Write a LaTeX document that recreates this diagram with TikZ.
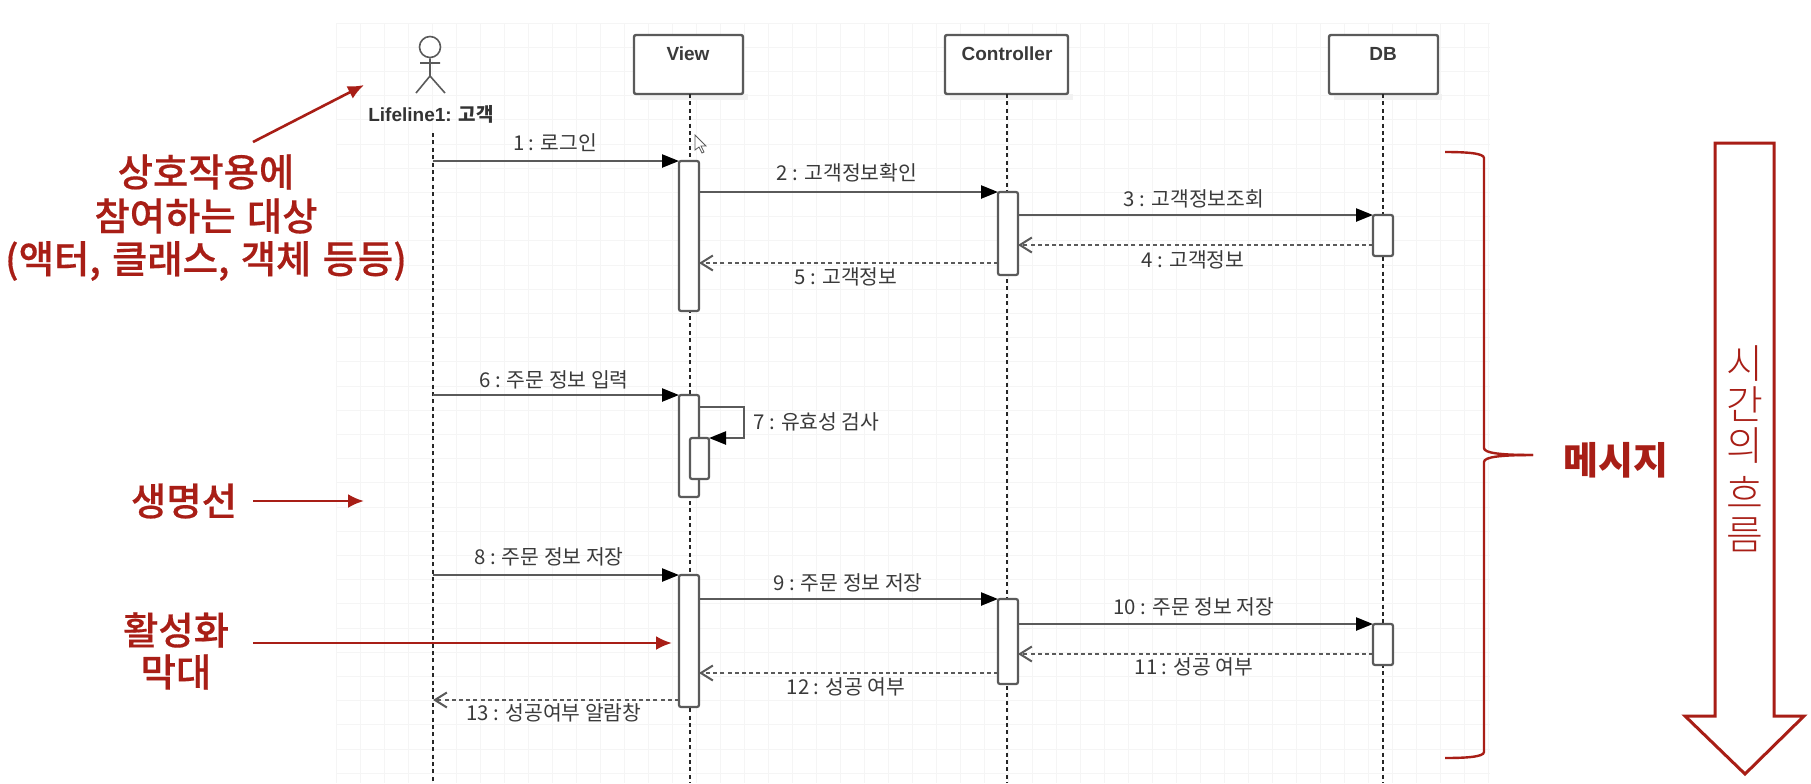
\documentclass[tikz,border=0pt]{standalone}
\usepackage{fontspec}
\setmainfont{Noto Sans CJK KR}
\newfontfamily\lblf[WordSpace=2.0]{Noto Sans CJK KR}
\newfontfamily\latinf[BoldFont={Liberation Sans Bold}]{Liberation Sans}
\newfontfamily\redf[WordSpace=1.3,FakeBold=0.4]{Noto Sans CJK KR Medium}
\newfontfamily\redbf{Noto Sans CJK KR}
\newfontfamily\thinf{Noto Sans CJK KR Light}
\usetikzlibrary{arrows.meta,calc}
\definecolor{redc}{HTML}{A81E16}
\definecolor{linec}{HTML}{5A5A5A}
\definecolor{textc}{HTML}{3A3A3A}
\definecolor{gridc}{HTML}{F5F5F5}
\newcommand{\fs}[1]{\fontsize{#1}{#1}\selectfont}
\tikzset{
  x=0.5pt,y=-0.5pt,
  box/.style={draw=linec,line width=1.2pt,rounded corners=1pt,fill=white,minimum width=54pt,minimum height=29.5pt,inner sep=0pt,outer sep=0pt,anchor=north west},
  boxtext/.style={font=\latinf\bfseries\fs{9.5},text=textc,inner sep=0pt},
  act/.style={draw=linec,line width=1.1pt,rounded corners=1pt,fill=white,minimum width=10pt,inner sep=0pt,outer sep=0pt,anchor=north west},
  lifeline/.style={draw=black!85,line width=1pt,dash pattern=on 2pt off 1.7pt},
  msg/.style={draw=linec,line width=1.2pt,-{Triangle[length=8.5pt,width=6.5pt,color=black]}},
  ret/.style={draw=linec,line width=1pt,dash pattern=on 2pt off 1.6pt,-{Straight Barb[length=6pt,width=7.5pt,color=linec]}},
  lbl/.style={font=\lblf\fs{10.2},text=textc,inner sep=0pt},
  redlbl/.style={font=\redf\fs{19.2},text=redc,inner sep=0pt,align=center},
  redarrow/.style={draw=redc,line width=1.3pt,-{Latex[length=8pt,width=7pt]}},
}
\begin{document}
\begin{tikzpicture}
\useasboundingbox (0,0) rectangle (1811,783);
\fill[white] (0,0) rectangle (1811,783);
% grid
\foreach \gx in {336,360,...,1488} {\draw[gridc,line width=0.5pt] (\gx,23) -- (\gx,783);}
\foreach \gy in {23,47.2,...,783} {\draw[gridc,line width=0.5pt] (336,\gy) -- (1490,\gy);}
% shadows
\fill[black!5] (640,94) rectangle (748,100);
\fill[black!5] (950,94) rectangle (1073,100);
\fill[black!5] (1334,94) rectangle (1442,100);
% lifeline heads
\node[box,minimum width=54.5pt] (view) at (634,35) {};
\node[boxtext] (viewt) at (688,54) {View};
\node[box,minimum width=61.5pt] (ctrl) at (945,35) {};
\node[boxtext] (ctrlt) at (1007,54) {Controller};
\node[box,minimum width=54.5pt] (db) at (1329,35) {};
\node[boxtext] (dbt) at (1383,54) {DB};
% actor
\node[circle,draw=linec,line width=0.8pt,minimum size=10.5pt,inner sep=0pt,fill=white] (head) at (430,47) {};
\coordinate (hip) at (430,76);
\coordinate (armL) at (420,63);
\coordinate (armR) at (440,63);
\coordinate (legL) at (416,93);
\coordinate (legR) at (445,93);
\draw[linec,line width=0.8pt] (head.south) -- (hip) (armL) -- (armR) (legL) -- (hip) -- (legR);
\node[boxtext,text=black!80] (actor) at (431,114) {Lifeline1: {\rmfamily\bfseries 고객}};
% lifelines
\coordinate (atop) at (433,133);
\coordinate (abot) at (433,783);
\coordinate (vtop) at (690,94);
\coordinate (vbot) at (690,783);
\coordinate (ctop) at (1007,94);
\coordinate (cbot) at (1007,783);
\coordinate (dtop) at (1383,94);
\coordinate (dbot) at (1383,783);
\draw[lifeline] (atop) -- (abot);
\draw[lifeline] (vtop) -- (vbot);
\draw[lifeline] (ctop) -- (cbot);
\draw[lifeline] (dtop) -- (dbot);
% activations
\node[act,minimum height=75pt] (v1) at (679,161) {};
\node[act,minimum height=41.5pt] (c1) at (998,192) {};
\node[act,minimum height=20.5pt] (d1) at (1373,215) {};
\node[act,minimum height=51pt] (v2) at (679,395) {};
\node[act,minimum height=20.5pt,minimum width=9.5pt] (v2i) at (690,438) {};
\node[act,minimum height=66pt] (v3) at (679,575) {};
\node[act,minimum height=42.5pt] (c3) at (998,599) {};
\node[act,minimum height=20.5pt] (d3) at (1373,624) {};
% free-end coordinates of messages
\coordinate (m1a) at (433,161);
\coordinate (m6a) at (433,395);
\coordinate (m8a) at (433,575);
\coordinate (m13b) at (433,700);
\coordinate (s1) at (744,407);
\coordinate (s2) at (744,438);
% messages
\draw[msg] (m1a) -- (v1.north west);
\draw[msg] (v1.east |- c1.north) -- (c1.north west);
\draw[msg] (c1.east |- d1.north) -- (d1.north west);
\draw[ret] (d1.west |- 0,245) -- (c1.east |- 0,245);
\draw[ret] (c1.west |- 0,263) -- (v1.east |- 0,263);
\draw[msg] (m6a) -- (v2.north west);
\draw[msg] (v2.east |- s1) -- (s1) -- (s2) -- (v2i.north east);
\draw[msg] (m8a) -- (v3.north west);
\draw[msg] (v3.east |- c3.north) -- (c3.north west);
\draw[msg] (c3.east |- d3.north) -- (d3.north west);
\draw[ret] (d3.west |- 0,654) -- (c3.east |- 0,654);
\draw[ret] (c3.west |- 0,673) -- (v3.east |- 0,673);
\draw[ret] (v3.west |- m13b) -- (m13b);
% message labels
\node[lbl] (l1) at (555,143) {1 : 로그인};
\node[lbl] (l2) at (847,173) {2 : 고객정보확인};
\node[lbl] (l3) at (1194,199) {3 : 고객정보조회};
\node[lbl] (l4) at (1193,260) {4 : 고객정보};
\node[lbl] (l5) at (846,277) {5 : 고객정보};
\node[lbl] (l6) at (554,380) {6 : 주문 정보 입력};
\node[lbl,anchor=west] (l7) at (753,422) {7 : 유효성 검사};
\node[lbl] (l8) at (549,557) {8 : 주문 정보 저장};
\node[lbl] (l9) at (848,583) {9 : 주문 정보 저장};
\node[lbl] (l10) at (1194,607) {10 : 주문 정보 저장};
\node[lbl] (l11) at (1194,667) {11 : 성공 여부};
\node[lbl] (l12) at (846,687) {12 : 성공 여부};
\node[lbl] (l13) at (554,713) {13 : 성공여부 알람창};
% cursor
\draw[linec,line width=0.4pt,fill=white] (695,135) -- (695,150) -- (699,147) -- (702,153) -- (704,152) -- (701,146) -- (706,146) -- cycle;
% red annotations
\node[redlbl] (t1a) at (206,172) {상호작용에};
\node[redlbl] (t1b) at (206,216) {참여하는 대상};
\node[redlbl] (t1c) at (206,261) {(액터, 클래스, 객체 등등)};
\coordinate (t1to) at (364,85);
\coordinate (t1from) at (253,142);
\draw[redarrow] (t1from) -- (t1to);
\node[redlbl] (t2) at (184,501) {생명선};
\coordinate (t2to) at (364,501);
\draw[redarrow] (t2.east -| 253,0) -- (t2to);
\node[redlbl] (t3a) at (176,630) {활성화};
\node[redlbl] (t3b) at (176,672) {막대};
\coordinate (t3from) at (253,643);
\coordinate (t3to) at (672,643);
\draw[redarrow] (t3from) -- (t3to);
% brace
\draw[redc,line width=1.2pt] (1445,152) .. controls (1465,152) and (1484,153) .. (1484,158) -- (1484,448) .. controls (1484,453) and (1500,455) .. (1533,455);
\draw[redc,line width=1.2pt] (1533,455) .. controls (1500,455) and (1484,457) .. (1484,462) -- (1484,752) .. controls (1484,757) and (1465,758) .. (1445,758);
\node[redlbl,font=\redbf\bfseries\fs{19}] (t4) at (1616,460) {메시지};
% time arrow
\draw[redc,line width=1.5pt,fill=white] (1715,143) -- (1774,143) -- (1774,716) -- (1804,716) -- (1745,774) -- (1685,716) -- (1715,716) -- cycle;
\node[inner sep=0pt,font=\thinf\fontsize{20}{20.5}\selectfont,text=redc,align=center] (t5) at (1745,449) {시\\간\\의\\[3.5pt]흐\\름};
\end{tikzpicture}
\end{document}
